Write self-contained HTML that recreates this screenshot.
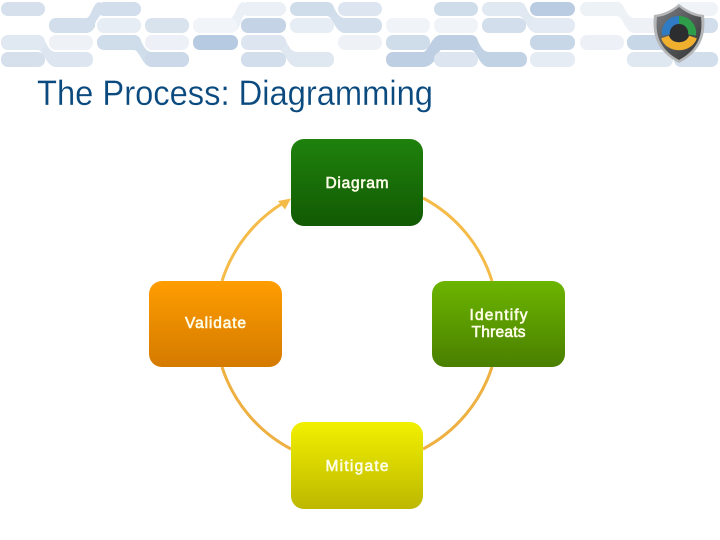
<!DOCTYPE html>
<html><head><meta charset="utf-8"><style>
html,body{margin:0;padding:0;background:#fff;width:720px;height:540px;overflow:hidden}
svg{display:block}
.n{font-family:"Liberation Sans",sans-serif;font-size:15.5px;fill:#fdfde8;stroke:#fdfde8;stroke-width:.6;text-anchor:middle}
</style></head><body>
<svg width="720" height="540" viewBox="0 0 720 540" xmlns="http://www.w3.org/2000/svg">
<defs>
<linearGradient id="g1" x1="0" y1="0" x2="0" y2="1"><stop offset="0" stop-color="#1f820c"/><stop offset="1" stop-color="#125a04"/></linearGradient>
<linearGradient id="g2" x1="0" y1="0" x2="0" y2="1"><stop offset="0" stop-color="#6cb500"/><stop offset="1" stop-color="#4a7f00"/></linearGradient>
<linearGradient id="g3" x1="0" y1="0" x2="0" y2="1"><stop offset="0" stop-color="#f2f000"/><stop offset="1" stop-color="#bdb800"/></linearGradient>
<linearGradient id="g4" x1="0" y1="0" x2="0" y2="1"><stop offset="0" stop-color="#ff9d00"/><stop offset="1" stop-color="#d47a00"/></linearGradient>
<linearGradient id="sh" x1="0" y1="0" x2="1" y2="1"><stop offset="0" stop-color="#7d8082"/><stop offset=".55" stop-color="#505254"/><stop offset="1" stop-color="#333436"/></linearGradient>
</defs>

<!-- pill connectors -->
<g>
<path d="M86 18C92 18 92 2 100 2L100 16C97 16 97 33 86 33Z" fill="#d2deeb"/>
<path d="M38 35C46 35 46 52 56 52L56 67C46 67 44 50 38 50Z" fill="#dde6f0"/>
<path d="M134 35C142 35 142 52 152 52L152 67C142 67 140 50 134 50Z" fill="#cfdcea"/>
<path d="M230 18C236 18 236 2 244 2L244 16C241 16 241 33 230 33Z" fill="#eaf0f6"/>
<path d="M327 2C335 2 335 18 345 18L345 33C335 33 333 16 327 16Z" fill="#d2deeb"/>
<path d="M279 35C287 35 287 52 297 52L297 67C287 67 285 50 279 50Z" fill="#dfe7f1"/>
<path d="M423 52C429 52 431 35 441 35L441 50C438 50 436 67 423 67Z" fill="#bfcfe3"/>
<path d="M471 35C479 35 479 52 489 52L489 67C479 67 477 50 471 50Z" fill="#c2d2e5"/>
<path d="M519 2C527 2 527 18 537 18L537 33C527 33 525 16 519 16Z" fill="#e0e8f2"/>
<path d="M617 2C625 2 625 18 635 18L635 33C625 33 623 16 617 16Z" fill="#eef2f7"/>
</g>

<!-- pills -->
<g>
<rect x="1" y="2" width="44" height="14" rx="7" fill="#d5e0ec"/>
<rect x="97" y="2" width="44" height="14" rx="7" fill="#d2deeb"/>
<rect x="241" y="2" width="45" height="14" rx="7" fill="#eaf0f6"/>
<rect x="290" y="2" width="44" height="14" rx="7" fill="#cfdcea"/>
<rect x="338" y="2" width="44" height="14" rx="7" fill="#dce5f0"/>
<rect x="434" y="2" width="44" height="14" rx="7" fill="#cfdcea"/>
<rect x="482" y="2" width="44" height="14" rx="7" fill="#e0e8f2"/>
<rect x="530" y="2" width="45" height="14" rx="7" fill="#b9cce2"/>
<rect x="580" y="2" width="44" height="14" rx="7" fill="#edf2f7"/>
<rect x="675" y="2" width="43" height="14" rx="7" fill="#f0f4f8"/>

<rect x="49" y="18" width="44" height="15" rx="7" fill="#d2deeb"/>
<rect x="95" y="16.500" width="48" height="18" rx="9" fill="#fff"/>
<rect x="97" y="18" width="44" height="15" rx="7" fill="#e6edf4"/>
<rect x="145" y="18" width="44" height="15" rx="7" fill="#d9e3ee"/>
<rect x="193" y="18" width="44" height="15" rx="7" fill="#f1f4f8"/>
<rect x="241" y="18" width="45" height="15" rx="7" fill="#c4d4e6"/>
<rect x="290" y="18" width="44" height="15" rx="7" fill="#e6edf4"/>
<rect x="338" y="18" width="44" height="15" rx="7" fill="#d2deeb"/>
<rect x="386" y="18" width="44" height="15" rx="7" fill="#f0f4f8"/>
<rect x="434" y="18" width="44" height="15" rx="7" fill="#f0f4f8"/>
<rect x="482" y="18" width="44" height="15" rx="7" fill="#d2deeb"/>
<rect x="530" y="18" width="45" height="15" rx="7" fill="#e3eaf3"/>
<rect x="627" y="18" width="50" height="15" rx="7" fill="#eef2f7"/>
<rect x="674" y="18" width="44" height="15" rx="7" fill="#d2deeb"/>

<rect x="1" y="35" width="44" height="15" rx="7" fill="#e0e8f2"/>
<rect x="49" y="35" width="44" height="15" rx="7" fill="#eef2f7"/>
<rect x="97" y="35" width="44" height="15" rx="7" fill="#cfdcea"/>
<rect x="145" y="35" width="44" height="15" rx="7" fill="#edf1f7"/>
<rect x="193" y="35" width="45" height="15" rx="7" fill="#b6cae1"/>
<rect x="241" y="35" width="45" height="15" rx="7" fill="#dde6f0"/>
<rect x="338" y="35" width="44" height="15" rx="7" fill="#eef2f7"/>
<rect x="386" y="35" width="44" height="15" rx="7" fill="#cfdcea"/>
<rect x="434" y="35" width="44" height="15" rx="7" fill="#bfcfe3"/>
<rect x="530" y="35" width="45" height="15" rx="7" fill="#c8d7e8"/>
<rect x="580" y="35" width="44" height="15" rx="7" fill="#edf1f7"/>
<rect x="627" y="35" width="50" height="15" rx="7" fill="#c8d7e8"/>

<rect x="1" y="52" width="44" height="15" rx="7" fill="#d5e0ec"/>
<rect x="49" y="52" width="44" height="15" rx="7" fill="#dde6f0"/>
<rect x="145" y="52" width="44" height="15" rx="7" fill="#ccd9e9"/>
<rect x="241" y="52" width="45" height="15" rx="7" fill="#d2deeb"/>
<rect x="290" y="52" width="44" height="15" rx="7" fill="#dfe7f1"/>
<rect x="386" y="52" width="44" height="15" rx="7" fill="#bfcfe3"/>
<rect x="434" y="52" width="44" height="15" rx="7" fill="#dce5f0"/>
<rect x="482" y="52" width="45" height="15" rx="7" fill="#c2d2e5"/>
<rect x="530" y="52" width="45" height="15" rx="7" fill="#e6ecf4"/>
<rect x="627" y="52" width="46" height="15" rx="7" fill="#dfe7f1"/>
<rect x="674" y="52" width="44" height="15" rx="7" fill="#d2deeb"/>
</g>

<!-- shield -->
<g>
<path d="M679 4C670 11 663 14 654 15C652 34 656 51 679 63C702 51 706 34 704 15C695 14 688 11 679 4Z" fill="#b4b6b7"/>
<path d="M679 7C671 13 665 16 657 17C655 34 659 49 679 60C699 49 703 34 701 17C693 16 687 13 679 7Z" fill="url(#sh)"/>
<circle cx="679" cy="33" r="10" fill="#2b2d2f"/>
<g fill="none" stroke-width="8">
<path d="M666 35A13 13 0 0 1 679 20" stroke="#2f7cc4"/>
<path d="M679 20A13 13 0 0 1 692 35" stroke="#2f9e4a"/>
<path d="M665 37A14.500 12.500 0 0 0 693 37" stroke="#f0b02e"/>
</g>
</g>

<!-- title -->
<text x="37" y="105" font-family="'Liberation Sans',sans-serif" font-size="35" fill="#0b4a7e" stroke="#fff" stroke-width=".2" textLength="396" lengthAdjust="spacingAndGlyphs">The Process: Diagramming</text>

<!-- arcs -->
<g fill="none" stroke-width="3">
<path d="M222 281A142 142 0 0 1 283 203" stroke="#f5bb49"/>
<path d="M423 198A142 142 0 0 1 492 281" stroke="#f5bb49"/>
<path d="M492 367A142 142 0 0 1 423 449" stroke="#efb042"/>
<path d="M222 367A142 142 0 0 0 291 449" stroke="#efb042"/>
</g>
<path d="M291 198.500L278 201L285 209.500Z" fill="#f5bb49"/>

<!-- nodes -->
<rect x="291" y="139" width="132" height="87" rx="13" fill="url(#g1)"/>
<rect x="432" y="281" width="133" height="86" rx="13" fill="url(#g2)"/>
<rect x="291" y="422" width="132" height="87" rx="13" fill="url(#g3)"/>
<rect x="149" y="281" width="133" height="86" rx="13" fill="url(#g4)"/>

<text class="n" x="357" y="188" textLength="63">Diagram</text>
<text class="n" x="215.500" y="328" textLength="61">Validate</text>
<text class="n" x="498.500" y="320" textLength="58">Identify</text>
<text class="n" x="498.500" y="337" textLength="54">Threats</text>
<text class="n" x="357" y="471" textLength="63">Mitigate</text>
</svg>
</body></html>
